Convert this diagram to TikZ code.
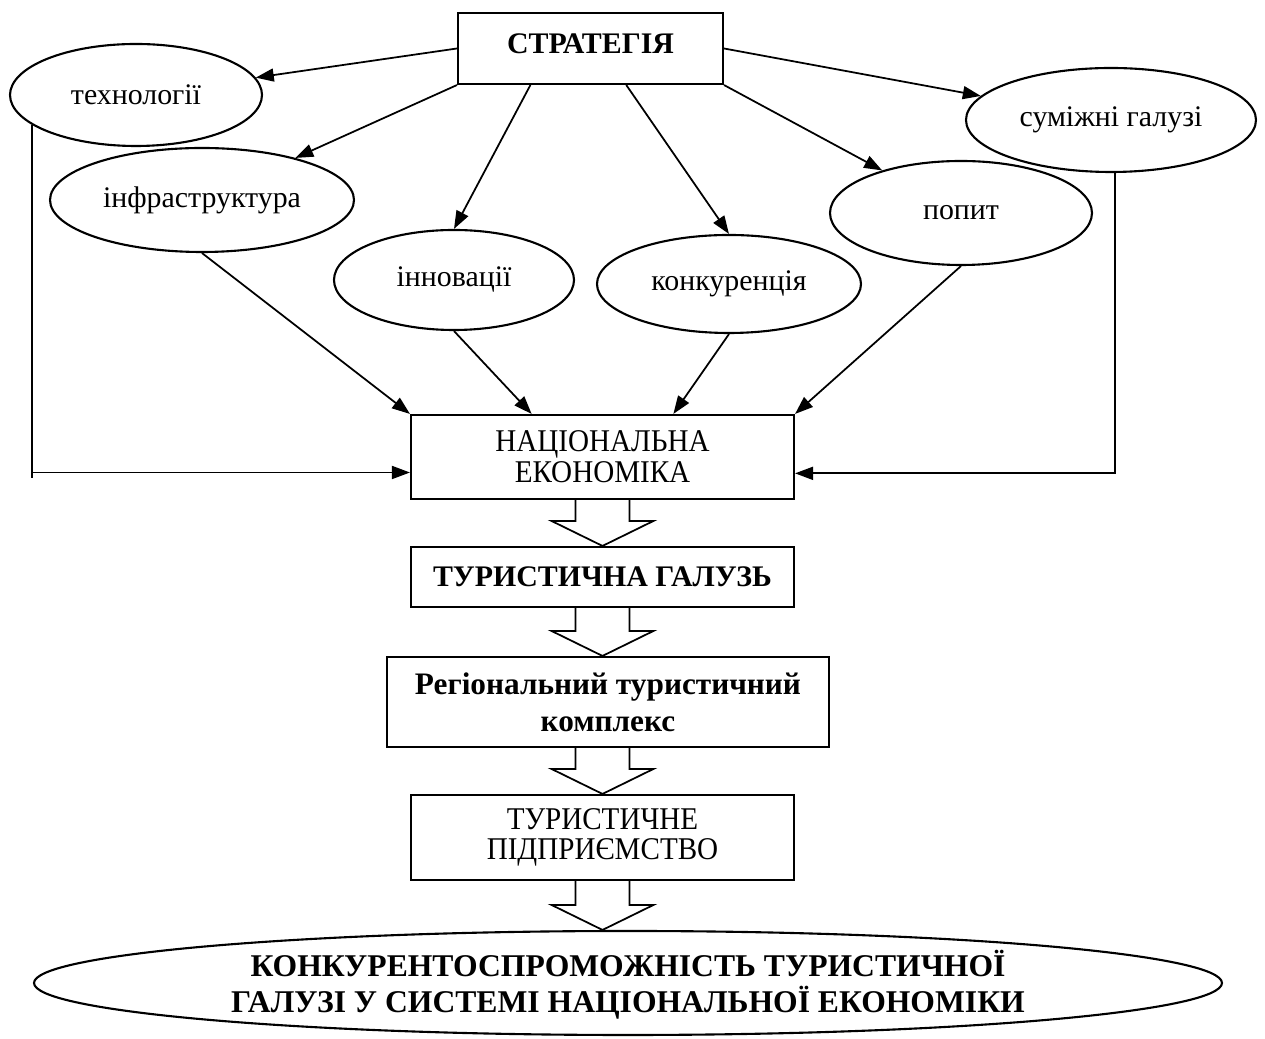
\documentclass[tikz,border=0pt]{standalone}
\usepackage{fontspec}
\setmainfont{Liberation Serif}
\newfontfamily\condfont[FakeStretch=0.92]{Liberation Serif}
\usetikzlibrary{shapes.geometric,arrows.meta,calc}
\newcommand\hollowarrow[2]{%
  \coordinate (ha) at (#1.south -| nat.south);
  \coordinate (hb) at (#2.north -| nat.south);
  \draw[hollow] ($(ha)+(-27,0)$) -- ($(hb)+(-27,-25)$) -- ($(hb)+(-51,-25)$) -- (hb)
    -- ($(hb)+(51,-25)$) -- ($(hb)+(27,-25)$) -- ($(ha)+(27,0)$);}
\begin{document}
\begin{tikzpicture}[x=0.1mm,y=-0.1mm,
  every node/.style={inner sep=0pt, font=\fontsize{8.5}{10}\selectfont},
  box/.style={draw, line width=0.6pt, rectangle, align=center},
  oval/.style={draw, line width=0.6pt, ellipse, align=center},
  conn/.style={line width=0.5pt, -{Triangle[length=1.8mm,width=1.3mm]}},
  plainline/.style={line width=0.5pt},
  hollow/.style={line width=0.5pt, line join=miter}]
\useasboundingbox (0,0) rectangle (1265,1039);

% top
\node[box, minimum width=26.5mm, minimum height=7.1mm, text height=5.7pt, text depth=2.8pt,
      font=\fontsize{8.5}{10}\selectfont\bfseries] (s) at (590.5,48.5) {СТРАТЕГІЯ};

\node[oval, minimum width=25.2mm, minimum height=10.2mm] (tech) at (136,95) {технології};
\node[oval, minimum width=30.4mm, minimum height=10.4mm] (infra) at (202,200) {інфраструктура};
\node[oval, minimum width=24mm, minimum height=10mm] (inn) at (454,280) {інновації};
\node[oval, minimum width=26.4mm, minimum height=9.8mm] (konk) at (729,284) {конкуренція};
\node[oval, minimum width=26.2mm, minimum height=10.4mm] (popyt) at (961,213) {попит};
\node[oval, minimum width=29mm, minimum height=10.4mm] (sum) at (1111,120) {суміжні галузі};

% chain
\node[box, minimum width=38.3mm, minimum height=8.4mm, font=\condfont\fontsize{9}{8.8}\selectfont] (nat) at (602.5,457) {НАЦІОНАЛЬНА\\ЕКОНОМІКА};
\node[box, minimum width=38.3mm, minimum height=6mm, font=\fontsize{8.5}{10}\selectfont\bfseries] (tg) at (602.5,577) {ТУРИСТИЧНА ГАЛУЗЬ};
\node[box, minimum width=44.2mm, minimum height=9mm, font=\fontsize{8.9}{10.5}\selectfont\bfseries] (reg) at (608,702) {Регіональний туристичний\\комплекс};
\node[box, minimum width=38.3mm, minimum height=8.5mm, font=\condfont\fontsize{9}{8.6}\selectfont] (tp) at (602.5,837.5) {ТУРИСТИЧНЕ\\ПІДПРИЄМСТВО};
\node[oval, minimum width=118.8mm, minimum height=10.4mm] (big) at (628,983) {};
\node[align=center, font=\fontsize{9}{10.2}\selectfont\bfseries] (bigtext) at (628,985) {КОНКУРЕНТОСПРОМОЖНІСТЬ ТУРИСТИЧНОЇ\\ГАЛУЗІ У СИСТЕМІ НАЦІОНАЛЬНОЇ ЕКОНОМІКИ};

% arrows from strategy
\draw[conn] (s.west) -- (tech);
\draw[conn] (s.south west) -- (infra);
\draw[conn] ($(s.south west)!0.275!(s.south east)$) -- (inn.north);
\draw[conn] ($(s.south west)!0.634!(s.south east)$) -- (konk.north);
\draw[conn] (s.south east) -- (popyt);
\draw[conn] (s.east) -- (sum);

% arrows into national economy
\draw[conn] (infra.south) -- (nat.north west);
\draw[conn] (inn.south) -- ($(nat.north west)!0.316!(nat.north east)$);
\draw[conn] (konk.south) -- ($(nat.north west)!0.684!(nat.north east)$);
\draw[conn] (popyt.south) -- (nat.north east);

\coordinate (natL) at ($(nat.north west)!0.68!(nat.south west)$);
\coordinate (natR) at ($(nat.north east)!0.69!(nat.south east)$);
\draw[conn] (tech.196) |- (natL);
\draw[plainline] (tech.196 |- natL) -- ++(0,6);
\draw[conn] (sum.274) |- (natR);

% hollow arrows
\hollowarrow{nat}{tg}
\hollowarrow{tg}{reg}
\hollowarrow{reg}{tp}
\hollowarrow{tp}{big}
\end{tikzpicture}
\end{document}
